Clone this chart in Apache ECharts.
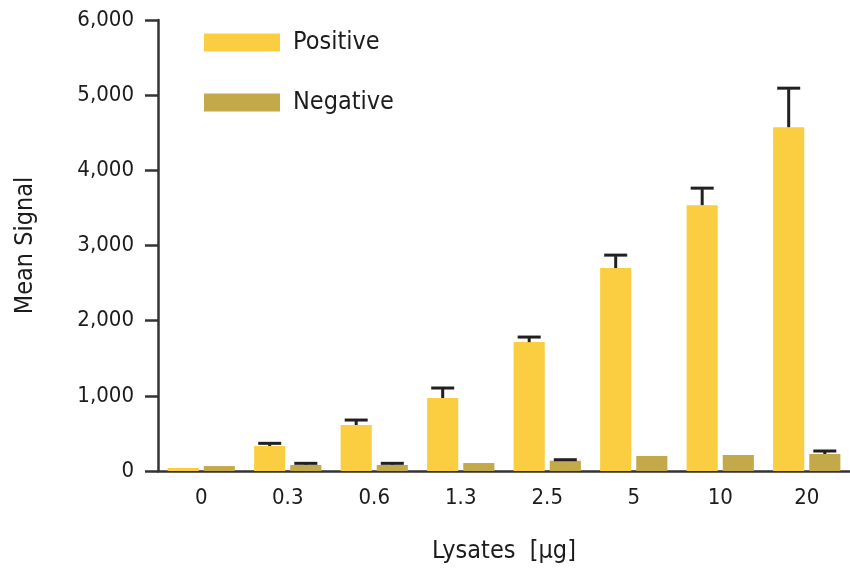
<!DOCTYPE html>
<html>
<head>
<meta charset="utf-8">
<script src="https://cdn.jsdelivr.net/npm/echarts@6/dist/echarts.min.js"></script>
<style>html,body{margin:0;padding:0;background:#fff}#c{width:850px;height:570px}</style>
</head>
<body>
<div id="c"></div>
<script>
const categories = ['0', '0.3', '0.6', '1.3', '2.5', '5', '10', '20'];
const positiveValues = [40, 332, 612, 971, 1715, 2700, 3537, 4574];
const positiveErrors = [0, 36, 66, 133, 67, 172, 226, 519];
const negativeValues = [66, 80, 80, 106, 137, 200, 213, 226];
const negativeErrors = [0, 22, 22, 0, 13, 0, 0, 40];
const yTicks = [0, 1000, 2000, 3000, 4000, 5000, 6000];

const FONT = '"DejaVu Sans Condensed", "Liberation Sans Narrow", sans-serif';
const TXT = '#1e1b1c';
const BAR_W = 0.36, GAP = 0.16;

function errSeries(name, values, errors, sign) {
  return {
    type: 'custom',
    name: name + ' err',
    z: 5,
    silent: true,
    data: values.map((v, i) => [i, v, errors[i]]),
    renderItem: function (params, api) {
      const i = api.value(0), v = api.value(1), e = api.value(2);
      if (!e) return null;
      const bw = api.size([1, 0])[0];
      const off = sign * (BAR_W * bw + GAP * BAR_W * bw) / 2;
      const p0 = api.coord([i, v]);
      const p1 = api.coord([i, v + e]);
      const x = p0[0] + off;
      const capHalf = 11.5;
      const style = { stroke: '#231f20', lineWidth: 3 };
      return {
        type: 'group',
        children: [
          { type: 'line', shape: { x1: x, y1: p0[1], x2: x, y2: p1[1] + 1 }, style: style },
          { type: 'line', shape: { x1: x - capHalf, y1: p1[1], x2: x + capHalf, y2: p1[1] }, style: style }
        ]
      };
    }
  };
}

const chart = echarts.init(document.getElementById('c'));
chart.setOption({
  animation: false,
  backgroundColor: '#fff',
  textStyle: { fontFamily: FONT },
  grid: { left: 158, right: 0, top: 20, bottom: 99 },
  legend: {
    orient: 'vertical',
    left: 199,
    top: 25,
    itemWidth: 76,
    itemHeight: 18,
    itemGap: 35,
    icon: 'rect',
    data: ['Positive', 'Negative'],
    textStyle: { fontFamily: FONT, fontSize: 25, color: TXT, padding: [0, 0, 0, 8] }
  },
  xAxis: {
    type: 'category',
    data: categories,
    name: 'Lysates  [\u03bcg]',
    nameLocation: 'middle',
    nameGap: 68,
    nameTextStyle: { fontFamily: FONT, fontSize: 25, color: TXT },
    axisLine: { lineStyle: { color: '#333', width: 2.5 } },
    axisTick: { length: 13, lineStyle: { color: '#333', width: 2.5 } },
    axisLabel: { fontFamily: FONT, fontSize: 22, color: TXT, margin: 16 }
  },
  yAxis: {
    type: 'value',
    min: 0,
    max: 6000,
    interval: 1000,
    name: 'Mean Signal',
    nameLocation: 'middle',
    nameGap: 120,
    nameTextStyle: { fontFamily: FONT, fontSize: 25, color: TXT },
    splitLine: { show: false },
    axisLine: { show: true, lineStyle: { color: '#333', width: 2.5 } },
    axisTick: { show: true, length: 13, lineStyle: { color: '#333', width: 2.5 } },
    axisLabel: {
      fontFamily: FONT, fontSize: 22, color: TXT, margin: 24,
      formatter: v => yTicks.includes(v) ? v.toLocaleString('en-US') : ''
    }
  },
  series: [
    {
      name: 'Positive', type: 'bar', data: positiveValues,
      barWidth: (BAR_W * 100) + '%', barGap: (GAP * 100) + '%',
      itemStyle: { color: '#fbce41' }
    },
    {
      name: 'Negative', type: 'bar', data: negativeValues,
      barWidth: (BAR_W * 100) + '%', barGap: (GAP * 100) + '%',
      itemStyle: { color: '#c4a94b' }
    },
    errSeries('Positive', positiveValues, positiveErrors, -1),
    errSeries('Negative', negativeValues, negativeErrors, 1)
  ]
});
</script>
</body>
</html>
